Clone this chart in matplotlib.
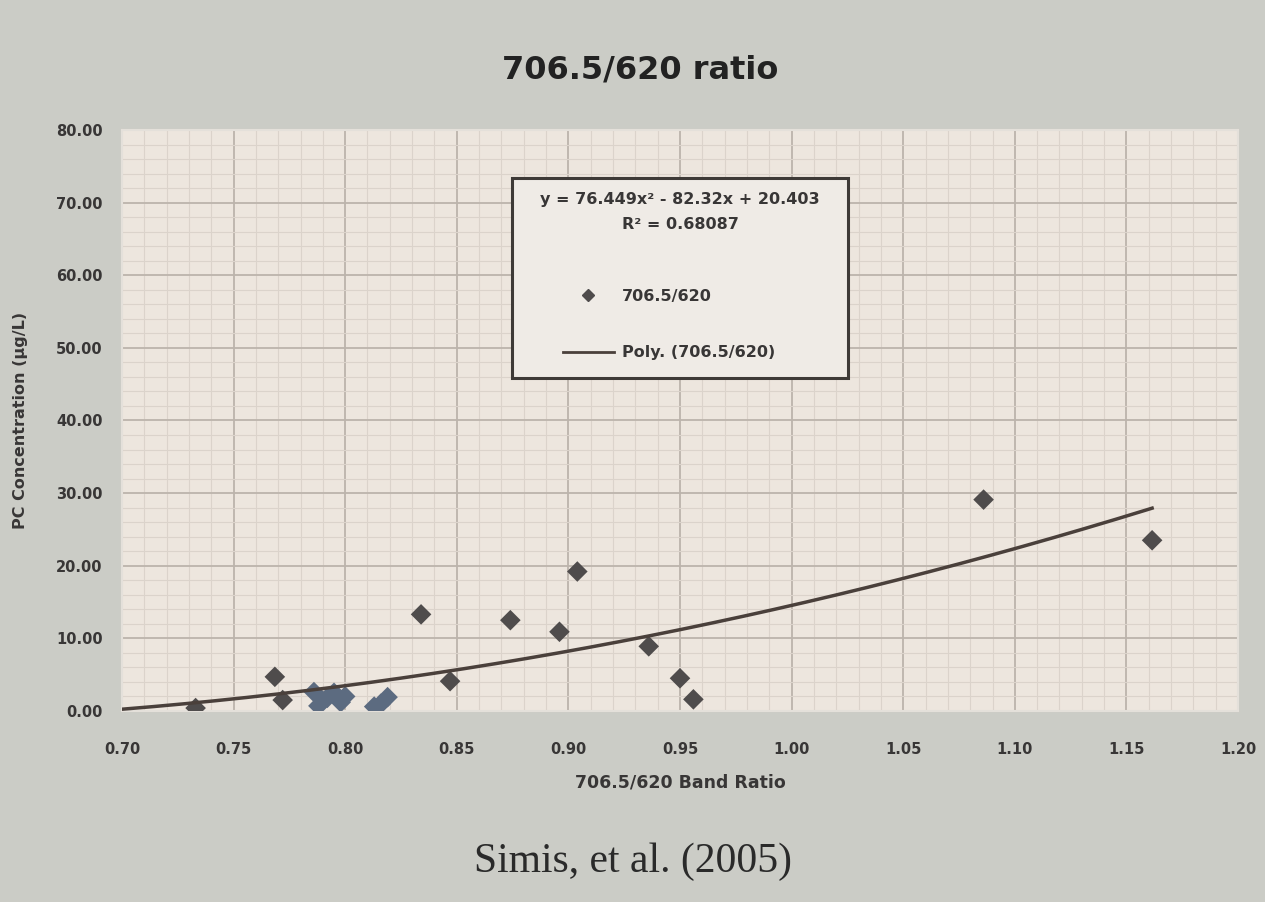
import matplotlib
matplotlib.use("Agg")
import matplotlib.pyplot as plt
import numpy as np
from matplotlib.patches import Rectangle
from matplotlib.lines import Line2D

# Data
ratio = [0.733, 0.7685, 0.772, 0.786, 0.788, 0.792, 0.795, 0.798, 0.800,
         0.813, 0.816, 0.819, 0.834, 0.847, 0.874, 0.896, 0.904, 0.936,
         0.950, 0.956, 1.086, 1.1615]
pc_conc = [0.4, 4.7, 1.5, 2.6, 0.7, 1.8, 2.5, 1.2, 2.0,
           0.6, 1.0, 1.9, 13.3, 4.1, 12.5, 10.9, 19.2, 8.9,
           4.5, 1.6, 29.1, 23.5]
poly_coef = [76.449, -82.32, 20.403]
r_squared = "0.68087"
x_ticks = [0.70, 0.75, 0.80, 0.85, 0.90, 0.95, 1.00, 1.05, 1.10, 1.15, 1.20]
y_ticks = [0, 10, 20, 30, 40, 50, 60, 70, 80]

txt = "#383636"

fig = plt.figure(figsize=(12.65, 9.02), dpi=100)
fig.patch.set_facecolor("#cbccc6")
ax = fig.add_axes([0.0964, 0.2118, 0.8823, 0.6441])
ax.set_facecolor("#ede6de")

ax.set_xlim(0.70, 1.20)
ax.set_ylim(0, 80)
ax.set_xticks(x_ticks)
ax.set_yticks(y_ticks)
ax.set_xticks(np.arange(0.70, 1.2001, 0.01), minor=True)
ax.set_yticks(np.arange(0, 80.01, 2), minor=True)
ax.set_xticklabels([f"{v:.2f}" for v in x_ticks], fontsize=10.5, fontweight="bold", color=txt)
ax.set_yticklabels([f"{v:.2f}" for v in y_ticks], fontsize=10.5, fontweight="bold", color=txt)
ax.tick_params(which="both", length=0)
ax.tick_params(axis="x", pad=22)
ax.tick_params(axis="y", pad=14)
ax.grid(which="major", color="#bcb4ac", linewidth=1.3)
ax.grid(which="minor", color="#dbd3cb", linewidth=0.8)
ax.set_axisbelow(True)
for s in ax.spines.values():
    s.set_color("#e4e0da")
    s.set_linewidth(1.5)

# colors: cluster points appear bluish
colors = ["#4f4c4c"] * len(ratio)
for i in range(3, 12):
    colors[i] = "#5c6b80"

ax.scatter(ratio, pc_conc, marker="D", s=110, c=colors, zorder=3, edgecolors="none")

xx = np.linspace(0.70, max(ratio), 200)
yy = np.polyval(poly_coef, xx)
ax.plot(xx, yy, color="#4a403b", linewidth=2.5, zorder=4)

ax.set_xlabel("706.5/620 Band Ratio", fontsize=12.5, fontweight="bold", color=txt, labelpad=12)
ax.set_ylabel("PC Concentration (\u00b5g/L)", fontsize=11.5, fontweight="bold", color=txt, labelpad=20)

# Legend box
ax.add_patch(Rectangle((0.3495, 0.573), 0.301, 0.344, transform=ax.transAxes,
                       facecolor="#efebe6", edgecolor="#3e3a37", linewidth=2.2, zorder=5))
ax.text(0.50, 0.8795, f"y = {poly_coef[0]}x\u00b2 - {abs(poly_coef[1])}x + {poly_coef[2]}",
        transform=ax.transAxes, ha="center", va="center", fontsize=11.5, fontweight="bold",
        color=txt, zorder=6)
ax.text(0.50, 0.8365, f"R\u00b2 = {r_squared}", transform=ax.transAxes, ha="center",
        va="center", fontsize=11.5, fontweight="bold", color=txt, zorder=6)
handles = [Line2D([], [], marker="D", color="#4f4c4c", linestyle="none", markersize=6),
           Line2D([], [], color="#4a403b", linewidth=2)]
leg = ax.legend(handles, ["706.5/620", "Poly. (706.5/620)"], loc="center",
                bbox_to_anchor=(0.49, 0.665), frameon=False, fontsize=11.5,
                labelspacing=2.6, handlelength=3.2, handletextpad=0.5)
for t in leg.get_texts():
    t.set_fontweight("bold")
    t.set_color(txt)
leg.set_zorder(7)

fig.text(0.506, 0.922, "706.5/620 ratio", ha="center", va="center", fontsize=23,
         fontweight="bold", color="#222222")
fig.text(0.50, 0.045, "Simis, et al. (2005)", ha="center", va="center", fontsize=30,
         family="Liberation Serif", color="#2a2a2a")

fig.savefig("out.png", dpi=100, facecolor=fig.get_facecolor())
